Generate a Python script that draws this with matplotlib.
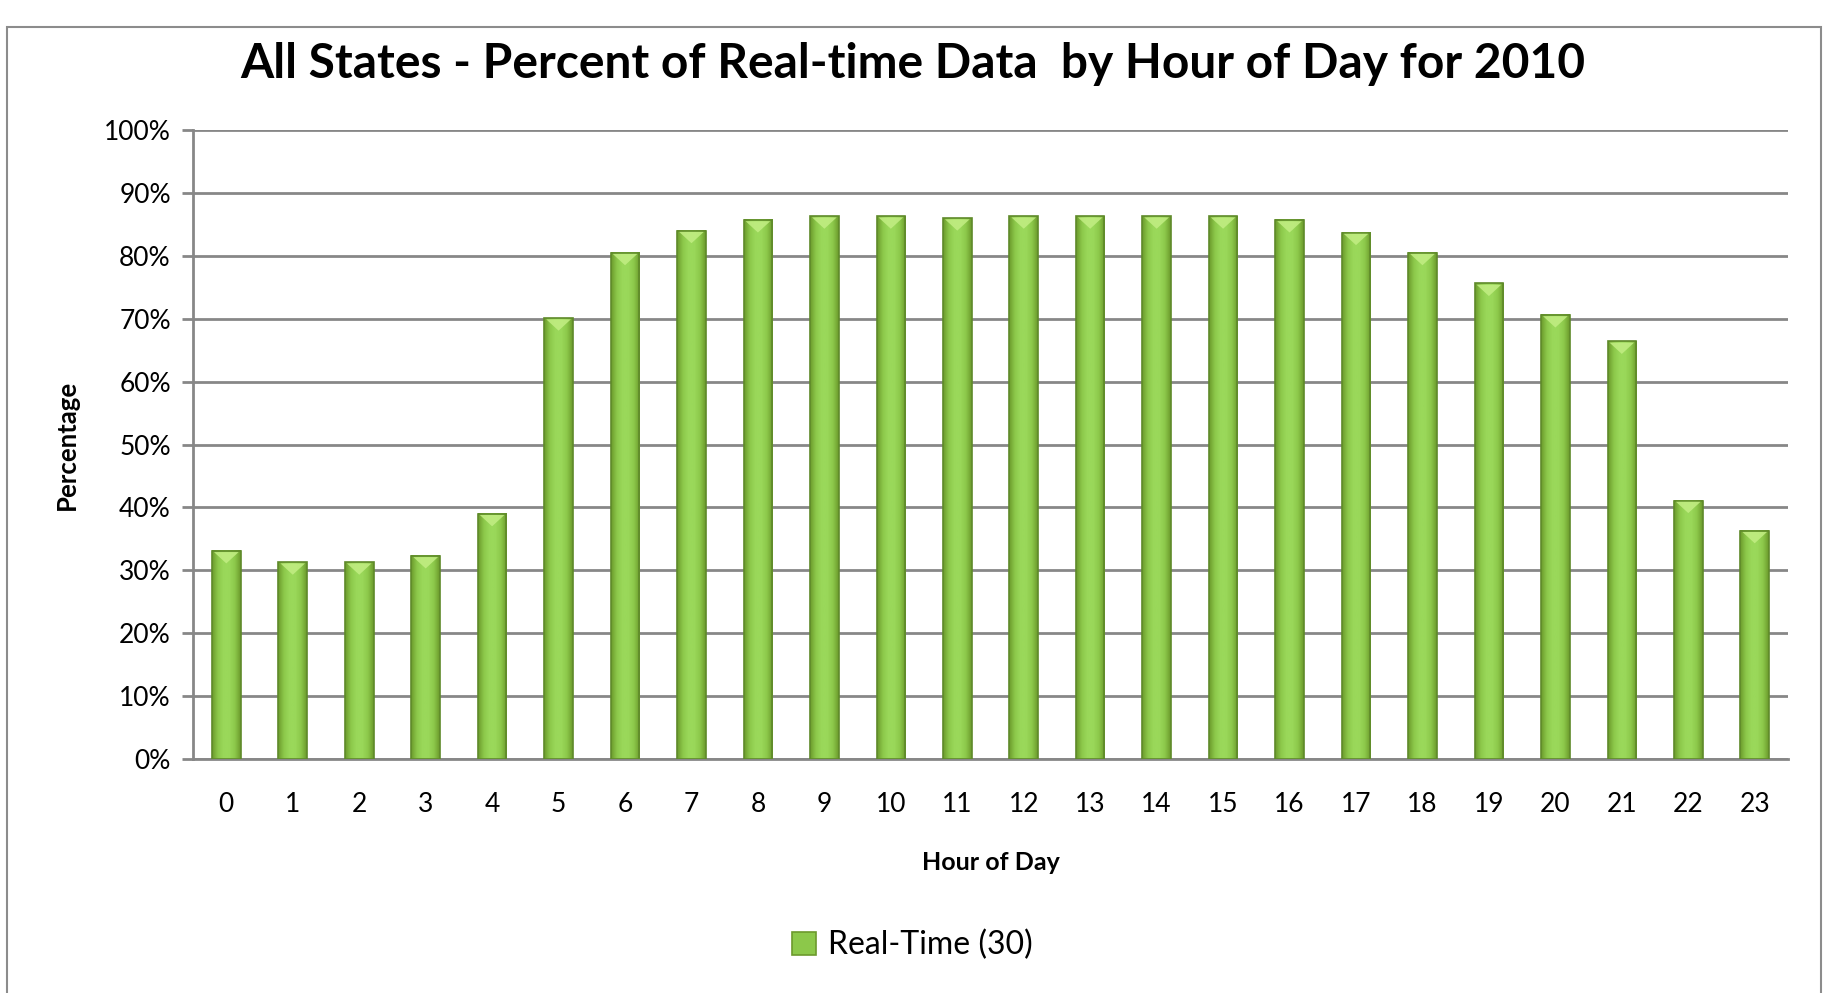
import numpy as np
import matplotlib
matplotlib.use('Agg')
import matplotlib.pyplot as plt
from matplotlib.patches import Rectangle, Polygon, Patch
from matplotlib.colors import LinearSegmentedColormap

plt.rcParams['font.family'] = ['Lato', 'DejaVu Sans']

# data
hours = list(range(24))
real_time = [33.1, 31.3, 31.3, 32.3, 39.0, 70.1, 80.5, 84.0, 85.7, 86.3, 86.3, 86.0,
             86.3, 86.3, 86.3, 86.3, 85.7, 83.7, 80.5, 75.6, 70.6, 66.4, 41.1, 36.3]
yticks = list(range(0, 101, 10))
ytick_labels = [f'{t}%' for t in yticks]

title = 'All States - Percent of Real-time Data  by Hour of Day for 2010'
series_name = 'Real-Time (30)'

fig = plt.figure(figsize=(18.25, 9.93), dpi=100)
ax = fig.add_axes([0.1058, 0.2356, 0.8739, 0.6335])

grid_col = '#878787'
cmap = LinearSegmentedColormap.from_list(
    'bar', ['#6c9a2c', '#8cc84a', '#9ad85a', '#9ad85a', '#8cc84a', '#6c9a2c'])
grad = np.linspace(0, 1, 64).reshape(1, -1)
w = 0.43

for h, v in zip(hours, real_time):
    x0, x1 = h - w / 2, h + w / 2
    ax.imshow(grad, cmap=cmap, extent=(x0, x1, 0, v), aspect='auto',
              interpolation='bilinear', zorder=3)
    ax.add_patch(Rectangle((x0, 0), w, v, fill=False, edgecolor='#5f8a2a',
                           linewidth=1.2, zorder=4))
    # light bevel triangle on top
    ax.add_patch(Polygon([(x0 + 0.03, v - 0.2), (x1 - 0.03, v - 0.2), (h, v - 2.0)],
                         closed=True, facecolor='#c3ee84', edgecolor='none',
                         alpha=0.85, zorder=4))

ax.set_xlim(-0.5, 23.5)
ax.set_ylim(0, 100)
ax.set_yticks(yticks)
ax.set_yticklabels(ytick_labels)
ax.set_xticks(hours)
ax.set_xticklabels([str(h) for h in hours])
ax.yaxis.grid(True, color=grid_col, linewidth=2, zorder=0)
ax.set_axisbelow(True)

for s in ['top', 'right']:
    ax.spines[s].set_visible(False)
for s in ['left', 'bottom']:
    ax.spines[s].set_color(grid_col)
    ax.spines[s].set_linewidth(2)

ax.tick_params(axis='y', length=8, width=2, color=grid_col, labelsize=19, pad=8)
ax.tick_params(axis='x', length=0, labelsize=19, pad=24)

ax.set_xlabel('Hour of Day', fontsize=18, fontweight='bold', labelpad=24)
ax.set_ylabel('Percentage', fontsize=18.5, fontweight='bold', labelpad=18)
fig.text(0.5, 0.9355, title, ha='center', va='center', fontsize=34.5, fontweight='bold')

handle = Patch(facecolor='#8cc84a', edgecolor='#6c9a2c', linewidth=1.2)
fig.legend([handle], [series_name], loc='center', bbox_to_anchor=(0.5, 0.048),
           frameon=False, fontsize=23, handlelength=0.75, handleheight=0.75,
           handletextpad=0.4)

# outer chart border
fig.add_artist(Rectangle((7 / 1825, -0.01), 1814 / 1825, 0.9829, transform=fig.transFigure,
                         fill=False, edgecolor='#8c8c8c', linewidth=1.5))

fig.savefig('out.png', dpi=100)
